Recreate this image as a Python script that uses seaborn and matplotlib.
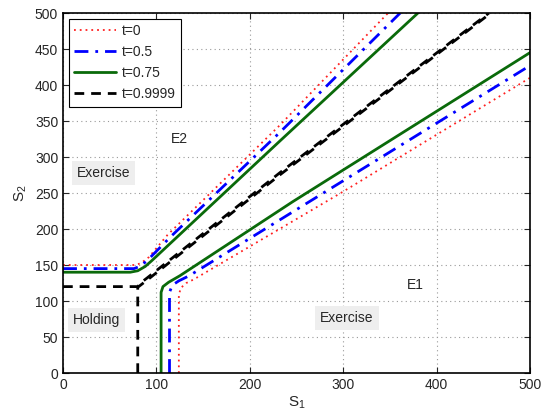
import pandas as pd
import matplotlib.pyplot as plt
import seaborn as sns

# boundaries (S1, S2 pairs); upper = E2 side, lower = E1 side
t0_up_s1 = [0, 78, 84, 92, 112, 232, 348]
t0_up_s2 = [150, 150, 153, 161, 192, 344, 500]
t0_lo_s1 = [124, 124, 126, 132, 140, 300, 500]
t0_lo_s2 = [0, 108, 118, 125, 130, 252, 410]

t05_up_s1 = [0, 76, 82, 90, 115, 232, 361]
t05_up_s2 = [145, 145, 148, 156, 189, 334, 500]
t05_lo_s1 = [114, 114, 117, 124, 135, 500]
t05_lo_s2 = [0, 112, 122, 128, 135, 427]

t075_up_s1 = [0, 72, 80, 88, 95, 232, 380]
t075_up_s2 = [140, 140, 142, 148, 156, 322, 500]
t075_lo_s1 = [105, 105, 107, 113, 125, 246, 500]
t075_lo_s2 = [0, 112, 120, 126, 135, 238, 445]

t1_up_s1 = [0, 80, 84, 90, 232, 456]
t1_up_s2 = [120, 120, 126, 132, 278, 500]
t1_lo_s1 = [80, 80, 85, 91, 234, 458]
t1_lo_s2 = [0, 119, 124, 130, 277, 500]

sns.set_style("ticks")
plt.rcParams["font.family"] = ["Liberation Sans", "DejaVu Sans"]
plt.rcParams["mathtext.fontset"] = "custom"
plt.rcParams["mathtext.rm"] = "Liberation Sans"

fig = plt.figure(figsize=(5.41, 4.17), dpi=100)
ax = fig.add_axes([0.1165, 0.1055, 0.8632, 0.8633])

styles = [
    ("t=0", t0_up_s1, t0_up_s2, t0_lo_s1, t0_lo_s2,
     dict(color="#ff2020", lw=1.3, linestyle=(0, (1, 2.2)))),
    ("t=0.5", t05_up_s1, t05_up_s2, t05_lo_s1, t05_lo_s2,
     dict(color="#0000ff", lw=2, linestyle=(0, (5, 2.5, 1, 2.5)))),
    ("t=0.75", t075_up_s1, t075_up_s2, t075_lo_s1, t075_lo_s2,
     dict(color="#0a6a0a", lw=2, linestyle="-")),
    ("t=0.9999", t1_up_s1, t1_up_s2, t1_lo_s1, t1_lo_s2,
     dict(color="black", lw=2, linestyle=(0, (3.5, 2.5)))),
]

for label, us1, us2, ls1, ls2, kw in styles:
    up = pd.DataFrame({"S1": us1, "S2": us2})
    lo = pd.DataFrame({"S1": ls1, "S2": ls2})
    sns.lineplot(data=up, x="S1", y="S2", sort=False, estimator=None, ax=ax, label=label, **kw)
    sns.lineplot(data=lo, x="S1", y="S2", sort=False, estimator=None, ax=ax, **kw)

ax.set_xlim(0, 500)
ax.set_ylim(0, 500)
ax.set_xticks(range(0, 501, 100))
ax.set_yticks(range(0, 501, 50))
ax.grid(True, linestyle=(0, (1, 3)), color="#999999", lw=0.8)
ax.tick_params(direction="in", top=True, right=True, labelsize=10, length=4, width=0.8)
for sp in ax.spines.values():
    sp.set_linewidth(1.2)
    sp.set_color("black")

ax.set_xlabel(r"$\mathregular{S_1}$", fontsize=11, labelpad=2)
ax.set_ylabel(r"$\mathregular{S_2}$", fontsize=11, labelpad=4)

box = dict(facecolor="#eeeeee", edgecolor="none", pad=3.5)
ax.text(125, 325, "E2", fontsize=10, ha="center", va="center")
ax.text(377, 122, "E1", fontsize=10, ha="center", va="center")
ax.text(43, 278, "Exercise", fontsize=10, ha="center", va="center", bbox=box)
ax.text(36, 74, "Holding", fontsize=10, ha="center", va="center", bbox=box)
ax.text(304, 76, "Exercise", fontsize=10, ha="center", va="center", bbox=box)

leg = ax.legend(loc="upper left", fontsize=10, frameon=True, fancybox=False,
                edgecolor="black", framealpha=1, handlelength=3.0,
                borderaxespad=0.4, labelspacing=0.5, borderpad=0.4,
                handletextpad=0.4)
leg.get_frame().set_linewidth(0.8)

fig.savefig("out.png", dpi=100)
